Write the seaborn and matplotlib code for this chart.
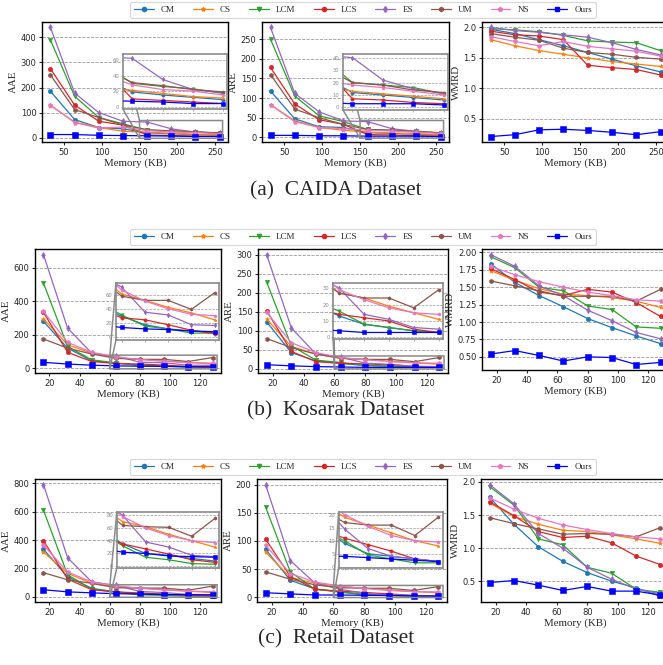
import matplotlib
matplotlib.use("Agg")
import matplotlib.pyplot as plt
from matplotlib.lines import Line2D
from matplotlib.ticker import MultipleLocator
import pandas as pd
import seaborn as sns

SERIF = "Liberation Serif"
W, H = 663, 665

METHODS = ["CM", "CS", "LCM", "LCS", "ES", "UM", "NS", "Ours"]
COLORS = {
    "CM": "#1f77b4", "CS": "#ff7f0e", "LCM": "#2ca02c", "LCS": "#d62728",
    "ES": "#9467bd", "UM": "#8c564b", "NS": "#e377c2", "Ours": "#0000ff",
}
MARKERS = {
    "CM": "o", "CS": "*", "LCM": "v", "LCS": "o",
    "ES": "d", "UM": "h", "NS": "p", "Ours": "s",
}

# ---------------- CAIDA ----------------
CAIDA_MEM = [32, 64, 96, 128, 160, 192, 224, 256]
CAIDA_AAE = {
    "CM": [185, 72, 40, 35, 19, 15, 12, 9],
    "CS": [128, 62, 40, 25, 21, 17, 13, 11],
    "LCM": [390, 165, 80, 55, 30, 26, 23, 17],
    "LCS": [275, 130, 65, 50, 10, 8, 6, 4],
    "ES": [440, 178, 100, 65, 62, 35, 22, 18],
    "UM": [250, 112, 80, 50, 31, 27, 22, 19],
    "NS": [130, 60, 38, 42, 28, 22, 20, 15],
    "Ours": [12, 12, 9, 8, 7, 6, 4, 4],
}
CAIDA_ARE = {
    "CM": [118, 47, 27, 25, 12, 10, 8, 6],
    "CS": [83, 42, 25, 18, 13, 11, 9, 7],
    "LCM": [250, 105, 55, 40, 20, 18, 16, 11],
    "LCS": [178, 85, 45, 33, 7, 6, 4, 3],
    "ES": [280, 112, 65, 42, 40, 22, 15, 11],
    "UM": [160, 72, 50, 33, 20, 18, 14, 12],
    "NS": [83, 40, 25, 22, 18, 16, 13, 10],
    "Ours": [5, 5, 4, 4, 3, 3, 3, 2],
}
CAIDA_WMRD = {
    "CM": [1.97, 1.90, 1.80, 1.70, 1.59, 1.48, 1.37, 1.27],
    "CS": [1.80, 1.70, 1.62, 1.56, 1.50, 1.44, 1.40, 1.36],
    "LCM": [1.98, 1.96, 1.93, 1.87, 1.78, 1.76, 1.75, 1.62],
    "LCS": [1.94, 1.88, 1.86, 1.80, 1.38, 1.34, 1.31, 1.22],
    "ES": [2.00, 1.95, 1.92, 1.88, 1.84, 1.75, 1.64, 1.55],
    "UM": [1.90, 1.84, 1.79, 1.66, 1.59, 1.56, 1.51, 1.48],
    "NS": [1.85, 1.77, 1.70, 1.77, 1.69, 1.65, 1.61, 1.53],
    "Ours": [0.21, 0.24, 0.32, 0.33, 0.31, 0.28, 0.24, 0.29],
}

# ---------------- Kosarak ----------------
KOSARAK_MEM = [16, 32, 48, 64, 80, 96, 112, 128]
KOSARAK_AAE = {
    "CM": [280, 120, 45, 30, 18, 12, 9, 7],
    "CS": [295, 140, 90, 62, 53, 43, 35, 25],
    "LCM": [510, 130, 50, 32, 16, 12, 6, 6],
    "LCS": [335, 95, 40, 28, 25, 18, 10, 5],
    "ES": [680, 240, 90, 72, 36, 32, 18, 17],
    "UM": [175, 120, 85, 59, 53, 53, 40, 64],
    "NS": [340, 155, 95, 68, 52, 41, 33, 31],
    "Ours": [35, 25, 18, 14, 12, 11, 9, 8],
}
KOSARAK_ARE = {
    "CM": [123, 42, 20, 13, 8, 6, 4, 3],
    "CS": [130, 58, 38, 27, 24, 19, 15, 11],
    "LCM": [228, 60, 22, 16, 8, 6, 4, 3],
    "LCS": [152, 45, 18, 14, 12, 10, 5, 3],
    "ES": [300, 107, 38, 30, 14, 11, 6, 5],
    "UM": [79, 55, 38, 27, 24, 24, 18, 29],
    "NS": [148, 68, 42, 29, 23, 18, 15, 14],
    "Ours": [10, 7, 5, 4, 3, 3, 3, 3],
}
KOSARAK_WMRD = {
    "CM": [1.84, 1.57, 1.38, 1.22, 1.05, 0.92, 0.80, 0.69],
    "CS": [1.74, 1.60, 1.48, 1.40, 1.38, 1.35, 1.30, 1.21],
    "LCM": [1.94, 1.78, 1.50, 1.45, 1.23, 1.18, 0.93, 0.91],
    "LCS": [1.77, 1.61, 1.43, 1.38, 1.47, 1.43, 1.28, 1.08],
    "ES": [1.97, 1.80, 1.52, 1.38, 1.17, 1.02, 0.85, 0.76],
    "UM": [1.59, 1.52, 1.45, 1.37, 1.37, 1.37, 1.30, 1.47],
    "NS": [1.80, 1.68, 1.58, 1.50, 1.43, 1.38, 1.32, 1.30],
    "Ours": [0.54, 0.59, 0.52, 0.44, 0.50, 0.49, 0.39, 0.42],
}

# ---------------- Retail ----------------
RETAIL_MEM = [16, 32, 48, 64, 80, 96, 112, 128]
RETAIL_AAE = {
    "CM": [335, 140, 60, 35, 20, 17, 12, 8],
    "CS": [315, 165, 95, 70, 62, 50, 40, 30],
    "LCM": [610, 155, 55, 32, 14, 10, 4, 3],
    "LCS": [395, 125, 50, 35, 27, 19, 10, 6],
    "ES": [790, 275, 105, 80, 38, 30, 17, 15],
    "UM": [170, 120, 95, 64, 62, 61, 47, 75],
    "NS": [365, 175, 105, 78, 60, 48, 40, 37],
    "Ours": [50, 35, 28, 22, 20, 16, 15, 14],
}
RETAIL_ARE = {
    "CM": [85, 30, 15, 9, 5, 4, 3, 2],
    "CS": [80, 35, 25, 19, 16, 13, 10, 8],
    "LCM": [160, 45, 14, 10, 4.5, 3, 1.5, 1.5],
    "LCS": [103, 37, 14, 11, 8.5, 6, 3, 2],
    "ES": [200, 65, 25, 14.5, 7, 4, 3, 2],
    "UM": [45, 32, 22, 17, 16, 16, 12, 19],
    "NS": [92, 42, 27, 20, 15.5, 12, 10, 9.5],
    "Ours": [8, 6, 4, 4, 3.5, 3, 2.5, 2],
}
RETAIL_WMRD = {
    "CM": [1.77, 1.36, 1.02, 0.80, 0.63, 0.50, 0.40, 0.27],
    "CS": [1.68, 1.48, 1.36, 1.27, 1.25, 1.20, 1.14, 1.07],
    "LCM": [1.93, 1.65, 1.14, 1.05, 0.71, 0.62, 0.38, 0.33],
    "LCS": [1.70, 1.49, 1.25, 1.16, 1.18, 1.08, 0.88, 0.75],
    "ES": [1.96, 1.67, 1.22, 1.00, 0.71, 0.53, 0.38, 0.31],
    "UM": [1.46, 1.37, 1.29, 1.21, 1.22, 1.21, 1.17, 1.31],
    "NS": [1.76, 1.59, 1.45, 1.35, 1.28, 1.22, 1.17, 1.14],
    "Ours": [0.48, 0.51, 0.44, 0.36, 0.42, 0.35, 0.35, 0.29],
}


def px_rect(l, t, r, b):
    return [l / W, 1 - b / H, (r - l) / W, (b - t) / H]


def long_table(mem, values):
    rows = []
    for m in METHODS:
        for x, y in zip(mem, values[m]):
            rows.append((x, y, m))
    return pd.DataFrame(rows, columns=["memory", "value", "method"])


def draw_lines(ax, df, ms=3.2):
    sns.lineplot(data=df, x="memory", y="value", hue="method", style="method",
                 hue_order=METHODS, style_order=METHODS, palette=COLORS,
                 markers=MARKERS, dashes=False, linewidth=0.9, markersize=ms,
                 errorbar=None, legend=False, ax=ax)
    for line in ax.lines:
        c = line.get_color()
        line.set_markeredgecolor(c)
        line.set_markeredgewidth(0.4)
        if matplotlib.colors.to_hex(c) == "#0000ff":
            line.set_markersize(ms * 1.25)
            line.set_zorder(3)


def panel(rect, mem, values, ylabel, ystep, inset=None):
    ax = fig.add_axes(px_rect(*rect))
    df = long_table(mem, values)
    draw_lines(ax, df)
    ax.set_xlabel("Memory (KB)", fontsize=7.8, family=SERIF, labelpad=1)
    ax.set_ylabel(ylabel, fontsize=7.8, family=SERIF, labelpad=2)
    ax.yaxis.set_major_locator(MultipleLocator(ystep))
    if ystep == 0.25:
        ax.yaxis.set_major_formatter(matplotlib.ticker.FormatStrFormatter("%.2f"))
    ax.grid(axis="y", ls="--", color="#9a9a9a", lw=0.6)
    ax.set_axisbelow(True)
    ax.tick_params(labelsize=6, length=2.5, width=0.8, pad=1.5)
    for s in ax.spines.values():
        s.set_linewidth(1.0)
        s.set_color("black")
    if inset is not None:
        pos, xlim, ylim, istep = inset
        axins = ax.inset_axes(pos)
        draw_lines(axins, df, ms=2.4)
        axins.set_xlim(*xlim)
        axins.set_ylim(*ylim)
        axins.set_xlabel("")
        axins.set_ylabel("")
        axins.yaxis.set_major_locator(MultipleLocator(istep))
        axins.xaxis.set_major_locator(MultipleLocator(16 if xlim[1] < 200 else 32))
        axins.set_xticklabels([])
        axins.grid(axis="y", ls="--", color="#9a9a9a", lw=0.5)
        axins.set_axisbelow(True)
        axins.set_facecolor("white")
        axins.tick_params(labelsize=3.8, length=1.5, width=0.5, pad=1,
                          colors="#888888")
        for s in axins.spines.values():
            s.set_linewidth(1.2)
            s.set_color("#8a8a8a")
        ax.indicate_inset_zoom(axins, edgecolor="#8a8a8a", alpha=1, linewidth=1.1)
    return ax


def row_legend(y_center):
    handles = [Line2D([0], [0], color=COLORS[m], marker=MARKERS[m], markersize=3,
                      markeredgecolor=COLORS[m], lw=0.9) for m in METHODS]
    leg = fig.legend(handles, METHODS, loc="center", ncol=8,
                     bbox_to_anchor=(363 / W, 1 - y_center / H),
                     prop={"family": SERIF, "size": 6.5}, frameon=True,
                     handlelength=2.2, columnspacing=2.0, handletextpad=0.8,
                     borderpad=0.45, fancybox=True)
    leg.get_frame().set_edgecolor("#cccccc")
    leg.get_frame().set_linewidth(0.8)


sns.set_style("ticks")
plt.rcParams["font.family"] = ["DejaVu Sans"]

fig = plt.figure(figsize=(6.63, 6.65), dpi=100)

# row (a) CAIDA
panel((42, 22, 228, 142), CAIDA_MEM, CAIDA_AAE, "AAE", 100,
      ([0.435, 0.275, 0.56, 0.46], (150, 260), (-3, 68), 20))
panel((262, 22, 449, 142), CAIDA_MEM, CAIDA_ARE, "ARE", 50,
      ([0.433, 0.267, 0.56, 0.467], (150, 260), (-2, 43), 10))
panel((482, 22, 669, 142), CAIDA_MEM, CAIDA_WMRD, "WMRD", 0.5)
row_legend(10)
fig.text(336 / W, 1 - 191 / H, "(a)  CAIDA Dataset", ha="center", va="center",
         family=SERIF, fontsize=15.5)

# row (b) Kosarak
panel((35, 249, 221, 373), KOSARAK_MEM, KOSARAK_AAE, "AAE", 200,
      ([0.435, 0.266, 0.554, 0.46], (60, 131), (-4, 78), 20))
panel((258, 249, 448, 373), KOSARAK_MEM, KOSARAK_ARE, "ARE", 50,
      ([0.395, 0.274, 0.58, 0.45], (60, 131), (-1, 33), 10))
panel((482, 249, 669, 370), KOSARAK_MEM, KOSARAK_WMRD, "WMRD", 0.25)
row_legend(237)
fig.text(336 / W, 1 - 411 / H, "(b)  Kosarak Dataset", ha="center", va="center",
         family=SERIF, fontsize=15.5)

# row (c) Retail
panel((35, 479, 221, 602), RETAIL_MEM, RETAIL_AAE, "AAE", 200,
      ([0.44, 0.276, 0.55, 0.455], (60, 131), (-3, 85), 20))
panel((257, 479, 447, 602), RETAIL_MEM, RETAIL_ARE, "ARE", 50,
      ([0.43, 0.276, 0.547, 0.455], (60, 131), (-0.5, 21), 5))
panel((481, 479, 669, 602), RETAIL_MEM, RETAIL_WMRD, "WMRD", 0.5)
row_legend(467)
fig.text(336 / W, 1 - 639 / H, "(c)  Retail Dataset", ha="center", va="center",
         family=SERIF, fontsize=15.5)

fig.savefig("out.png", dpi=100)
